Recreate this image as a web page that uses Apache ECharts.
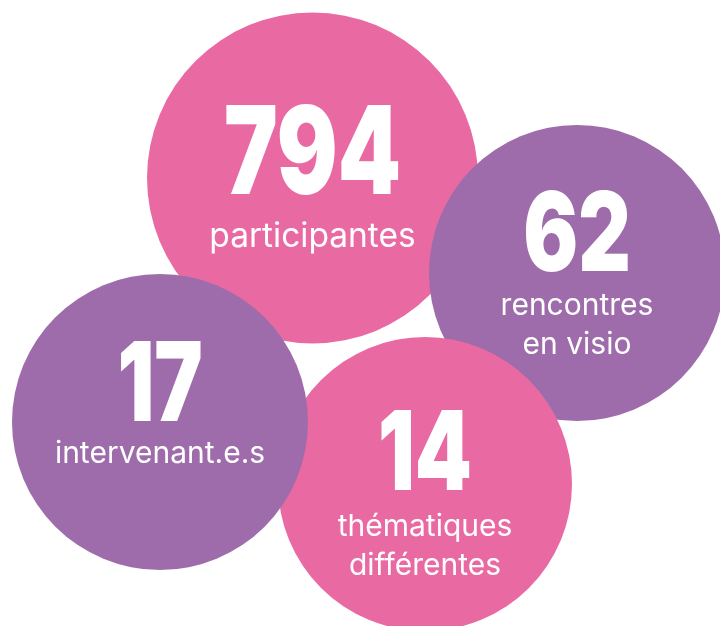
<!DOCTYPE html>
<html><head><meta charset="utf-8">
<script src="https://cdn.jsdelivr.net/npm/echarts@6/dist/echarts.min.js"></script>
<style>html,body{margin:0;padding:0;background:#fff}#c{width:720px;height:626px}</style>
</head><body><div id="c"></div>
<script>
// data
const values = [794, 62, 14, 17];
const captions = [['participantes'], ['rencontres', 'en visio'], ['thématiques', 'différentes'], ['intervenant.e.s']];
// layout (positions / sizes / styles)
const centerX = [312.5, 577, 425, 160];
const centerY = [178, 273, 484, 422];
const radius = [165.5, 148, 147, 148];
const colors = ['#E96AA3', '#9F6CAB', '#E96AA3', '#9F6CAB'];
const numSize = [122, 110, 110, 110];
const numDy = [-20.5, -35.5, -27, -34];
const capSize = [33.5, 30, 30, 30];
const capDy = [59, 33, 43, 32];
const capLineH = 39;
const numScaleX = 0.74;

const numFont = "Inter, 'DejaVu Sans', sans-serif";
const txtFont = "Inter, 'Noto Sans', sans-serif";

const chart = echarts.init(document.getElementById('c'), null, { renderer: 'canvas' });
chart.setOption({
  animation: false,
  backgroundColor: '#ffffff',
  grid: { left: 0, right: 0, top: 0, bottom: 0 },
  xAxis: { type: 'value', min: 0, max: 720, show: false },
  yAxis: { type: 'value', min: 0, max: 626, inverse: true, show: false },
  series: [{
    type: 'custom',
    silent: true,
    clip: false,
    data: values.map((v, i) => [centerX[i], centerY[i], v]),
    renderItem: function (params, api) {
      const i = params.dataIndex;
      const c = api.coord([api.value(0), api.value(1)]);
      const r = api.size([radius[i], 0])[0];
      const children = [{
        type: 'circle',
        shape: { cx: c[0], cy: c[1], r: r },
        style: { fill: colors[i] }
      }, {
        type: 'text',
        x: c[0], y: c[1] + numDy[i],
        scaleX: numScaleX,
        style: {
          text: String(api.value(2)), fill: '#fff',
          fontFamily: numFont, fontWeight: 900, fontSize: numSize[i],
          align: 'center', verticalAlign: 'middle'
        }
      }];
      captions[i].forEach((line, k) => {
        children.push({
          type: 'text',
          x: c[0], y: c[1] + capDy[i] + k * capLineH,
          style: {
            text: line, fill: '#fff',
            fontFamily: txtFont, fontWeight: 400, fontSize: capSize[i],
            align: 'center', verticalAlign: 'middle'
          }
        });
      });
      return { type: 'group', children: children };
    }
  }]
});
</script></body></html>
